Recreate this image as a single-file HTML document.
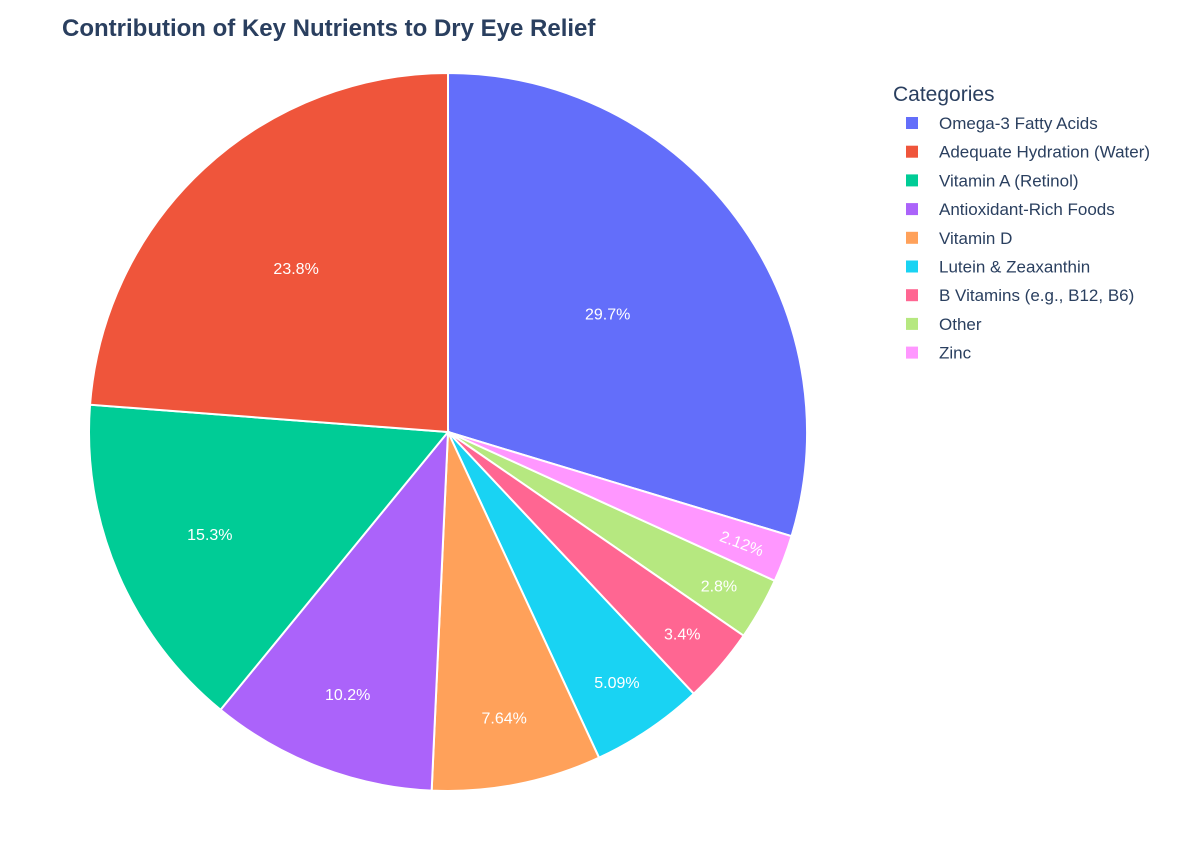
<!DOCTYPE html>
<html><head><meta charset="utf-8"><style>
body{margin:0;background:#fff;}
svg text{font-family:"Liberation Sans",Arial,sans-serif;}
</style></head><body>
<svg id="chart" width="1200" height="840" xmlns="http://www.w3.org/2000/svg">
<text x="62" y="36" font-size="24" font-weight="bold" fill="#2a3f5f">Contribution of Key Nutrients to Dry Eye Relief</text>
<g id="slices"></g>
<g id="labels"></g>
<g id="legend">
<text x="893" y="101" font-size="21" fill="#2a3f5f">Categories</text>
</g>
</svg>
<script>
const categories = ["Omega-3 Fatty Acids","Zinc","Other","B Vitamins (e.g., B12, B6)","Lutein & Zeaxanthin","Vitamin D","Antioxidant-Rich Foods","Vitamin A (Retinol)","Adequate Hydration (Water)"];
const values = [29.7,2.12,2.8,3.4,5.09,7.64,10.2,15.3,23.8];
const valueLabels = ["29.7%","2.12%","2.8%","3.4%","5.09%","7.64%","10.2%","15.3%","23.8%"];
const colors = ["#636efa","#ff97ff","#b6e880","#ff6692","#19d3f3","#ffa15a","#ab63fa","#00cc96","#ef553b"];
const legendOrder = ["Omega-3 Fatty Acids","Adequate Hydration (Water)","Vitamin A (Retinol)","Antioxidant-Rich Foods","Vitamin D","Lutein & Zeaxanthin","B Vitamins (e.g., B12, B6)","Other","Zinc"];
const NS="http://www.w3.org/2000/svg";
const cx=448, cy=432, R=359;
const total=values.reduce((a,b)=>a+b,0);
const sg=document.getElementById('slices'), lg=document.getElementById('labels'), leg=document.getElementById('legend');
function pt(a,r){return [cx+r*Math.sin(a), cy-r*Math.cos(a)];}
let acc=0;
values.forEach((v,i)=>{
  const f=v/total, a0=acc*2*Math.PI, a1=(acc+f)*2*Math.PI; acc+=f;
  const p0=pt(a0,R), p1=pt(a1,R);
  const p=document.createElementNS(NS,'path');
  p.setAttribute('d',`M${cx},${cy} L${p0[0]},${p0[1]} A${R},${R} 0 ${f>0.5?1:0} 1 ${p1[0]},${p1[1]} Z`);
  p.setAttribute('fill',colors[i]); p.setAttribute('stroke','#fff'); p.setAttribute('stroke-width','2');
  
  
  sg.appendChild(p);
  const am=(a0+a1)/2, rl=R*(0.55+0.35*(1-Math.min(f,0.3)/0.3));
  const lp=pt(am,rl);
  const t=document.createElementNS(NS,'text');
  t.setAttribute('x',lp[0]); t.setAttribute('y',lp[1]+6);
  t.setAttribute('text-anchor','middle'); t.setAttribute('font-size','16'); t.setAttribute('fill','#fff');
  if(f<0.025){t.setAttribute('transform',`rotate(${am*180/Math.PI-90} ${lp[0]} ${lp[1]})`);}
  t.textContent=valueLabels[i];
  
  
  lg.appendChild(t);
});
legendOrder.forEach((c,k)=>{
  const i=categories.indexOf(c), y=123+k*28.7;
  const r=document.createElementNS(NS,'rect');
  r.setAttribute('x',906); r.setAttribute('y',y-6); r.setAttribute('width',12); r.setAttribute('height',12); r.setAttribute('fill',colors[i]);
  
  
  leg.appendChild(r);
  const t=document.createElementNS(NS,'text');
  t.setAttribute('x',939); t.setAttribute('y',y+6); t.setAttribute('font-size','17'); t.setAttribute('fill','#2a3f5f');
  t.textContent=c;
  
  
  leg.appendChild(t);
});
</script>
</body></html>
